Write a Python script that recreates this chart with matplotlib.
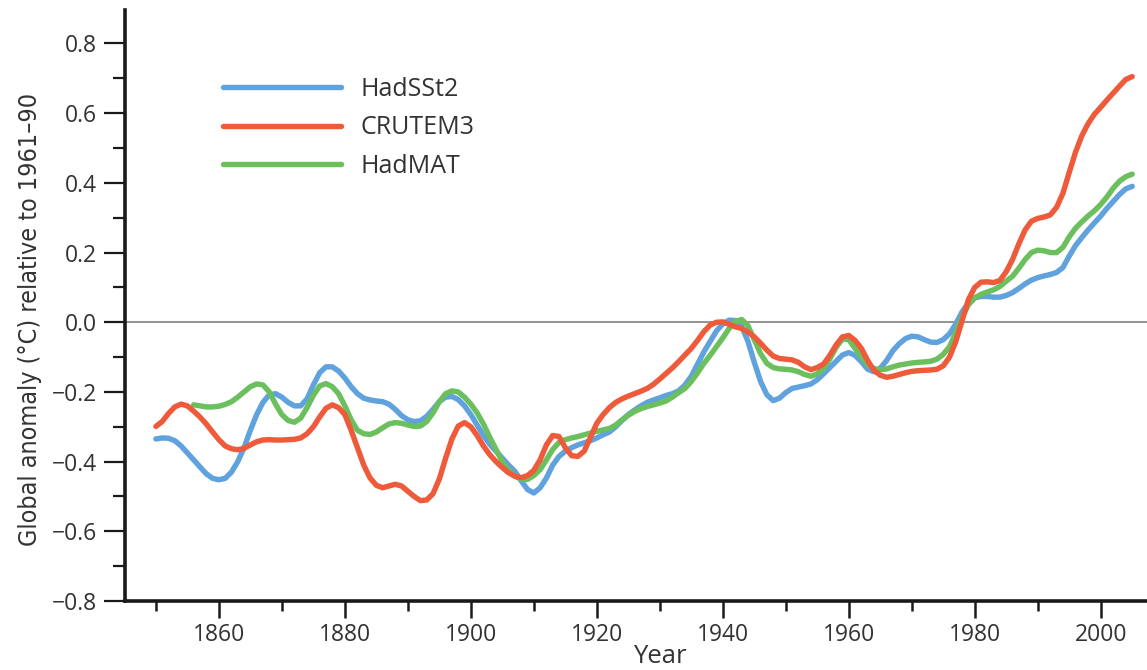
import matplotlib
matplotlib.use("Agg")
import matplotlib.pyplot as plt
from matplotlib import font_manager
from matplotlib.ticker import MultipleLocator

# yearly values
years = list(range(1850, 2006))
years_mat = list(range(1856, 2006))

hadsst2 = [
    -0.335, -0.332, -0.333, -0.34, -0.355, -0.375, -0.395, -0.415, -0.435, -0.448,   # 1850s
    -0.452, -0.448, -0.43, -0.4, -0.36, -0.31, -0.265, -0.23, -0.208, -0.205,        # 1860s
    -0.215, -0.23, -0.24, -0.24, -0.22, -0.18, -0.145, -0.128, -0.128, -0.14,        # 1870s
    -0.16, -0.185, -0.205, -0.218, -0.223, -0.226, -0.228, -0.235, -0.25, -0.268,    # 1880s
    -0.28, -0.285, -0.283, -0.27, -0.25, -0.228, -0.215, -0.213, -0.222, -0.24,      # 1890s
    -0.265, -0.295, -0.325, -0.35, -0.37, -0.39, -0.41, -0.428, -0.455, -0.48,       # 1900s
    -0.49, -0.475, -0.447, -0.41, -0.385, -0.37, -0.36, -0.352, -0.346, -0.34,       # 1910s
    -0.332, -0.323, -0.315, -0.3, -0.282, -0.265, -0.252, -0.24, -0.23, -0.223,      # 1920s
    -0.217, -0.21, -0.205, -0.197, -0.18, -0.155, -0.12, -0.085, -0.055, -0.025,     # 1930s
    -0.005, 0.006, 0.005, -0.012, -0.055, -0.115, -0.17, -0.208, -0.225, -0.218,     # 1940s
    -0.202, -0.19, -0.186, -0.182, -0.177, -0.165, -0.148, -0.13, -0.112, -0.094,    # 1950s
    -0.087, -0.095, -0.113, -0.135, -0.142, -0.132, -0.11, -0.082, -0.062, -0.047,   # 1960s
    -0.04, -0.042, -0.05, -0.057, -0.058, -0.05, -0.033, -0.005, 0.03, 0.055,        # 1970s
    0.07, 0.074, 0.074, 0.072, 0.072, 0.077, 0.085, 0.097, 0.11, 0.121,              # 1980s
    0.128, 0.133, 0.137, 0.143, 0.157, 0.19, 0.22, 0.243, 0.265, 0.285,              # 1990s
    0.305, 0.327, 0.347, 0.367, 0.383, 0.39,                                          # 2000s
]

crutem3 = [
    -0.299, -0.285, -0.262, -0.243, -0.235, -0.24, -0.255, -0.272, -0.292, -0.315,
    -0.337, -0.355, -0.363, -0.366, -0.362, -0.352, -0.343, -0.338, -0.337, -0.338,
    -0.338, -0.337, -0.336, -0.332, -0.32, -0.3, -0.272, -0.247, -0.237, -0.245,
    -0.265, -0.31, -0.36, -0.41, -0.447, -0.468, -0.475, -0.47, -0.465, -0.47,
    -0.485, -0.5, -0.512, -0.51, -0.492, -0.45, -0.39, -0.335, -0.298, -0.288,
    -0.3, -0.325, -0.355, -0.38, -0.4, -0.417, -0.432, -0.442, -0.446, -0.44,
    -0.425, -0.395, -0.352, -0.325, -0.328, -0.36, -0.383, -0.385, -0.37, -0.33,
    -0.29, -0.265, -0.245, -0.23, -0.22, -0.212, -0.205, -0.198, -0.19, -0.178,
    -0.163, -0.147, -0.131, -0.113, -0.094, -0.075, -0.052, -0.027, -0.008, 0.0,
    0.001, -0.006, -0.013, -0.018, -0.028, -0.042, -0.06, -0.08, -0.097, -0.104,
    -0.106, -0.108, -0.115, -0.128, -0.136, -0.13, -0.12, -0.095, -0.065, -0.042,
    -0.038, -0.052, -0.075, -0.11, -0.138, -0.152, -0.158, -0.155, -0.15, -0.145,
    -0.141, -0.139, -0.138, -0.137, -0.135, -0.125, -0.1, -0.055, 0.005, 0.065,
    0.1, 0.115, 0.116, 0.114, 0.12, 0.145, 0.18, 0.225, 0.265, 0.29,
    0.298, 0.302, 0.308, 0.33, 0.37, 0.43, 0.488, 0.535, 0.57, 0.597,
    0.617, 0.638, 0.658, 0.678, 0.697, 0.705,
]

hadmat = [
    -0.237, -0.24, -0.243, -0.243,                                                    # 1856-59
    -0.241, -0.236, -0.228, -0.215, -0.2, -0.185, -0.177, -0.18, -0.2, -0.235,
    -0.265, -0.282, -0.287, -0.275, -0.245, -0.21, -0.183, -0.176, -0.185, -0.205,
    -0.24, -0.28, -0.31, -0.32, -0.322, -0.315, -0.303, -0.292, -0.288, -0.29,
    -0.295, -0.299, -0.298, -0.285, -0.26, -0.228, -0.205, -0.197, -0.2, -0.215,
    -0.235, -0.26, -0.292, -0.33, -0.365, -0.4, -0.425, -0.442, -0.45, -0.451,
    -0.44, -0.423, -0.395, -0.365, -0.345, -0.337, -0.332, -0.328, -0.323, -0.318,
    -0.313, -0.309, -0.305, -0.295, -0.28, -0.267, -0.256, -0.248, -0.242, -0.237,
    -0.232, -0.226, -0.215, -0.202, -0.19, -0.17, -0.145, -0.118, -0.095, -0.07,
    -0.045, -0.018, 0.002, 0.008, -0.01, -0.05, -0.09, -0.118, -0.13, -0.134,
    -0.135, -0.137, -0.142, -0.15, -0.155, -0.148, -0.133, -0.105, -0.072, -0.048,
    -0.05, -0.075, -0.1, -0.122, -0.133, -0.136, -0.134, -0.128, -0.123, -0.12,
    -0.117, -0.115, -0.114, -0.112, -0.106, -0.092, -0.07, -0.03, 0.015, 0.05,
    0.07, 0.08, 0.087, 0.093, 0.103, 0.118, 0.132, 0.155, 0.18, 0.2,
    0.207, 0.205, 0.2, 0.2, 0.215, 0.245, 0.27, 0.288, 0.305, 0.32,
    0.338, 0.36, 0.385, 0.405, 0.418, 0.425,
]

tick_font = "Open Sans"
txt_color = "#333333"

# narrow font for the y label, if any is installed
fonts = font_manager.fontManager.ttflist
narrow = [f for f in fonts if ("Narrow" in f.name or "Condensed" in f.name
                               or f.stretch in ("condensed", "semi-condensed"))
          and f.weight in (400, "normal", "regular") and f.style == "normal"]
if narrow:
    f0 = narrow[0]
    ylab_kw = dict(fontproperties=font_manager.FontProperties(fname=f0.fname, size=18))
else:
    ylab_kw = dict(family="DejaVu Sans", fontsize=16.3)

fig = plt.figure(figsize=(11.47, 6.7), dpi=100)
ax = fig.add_axes([0.109, 0.103, 0.891, 0.882])

ax.axhline(0, color="#8a8a8a", lw=1.3, zorder=1)

lw = 3.9
ax.plot(years, hadsst2, color="#5fa2dd", lw=lw, solid_capstyle="round", solid_joinstyle="round", label="HadSSt2")
ax.plot(years_mat, hadmat, color="#6cbf5d", lw=lw, solid_capstyle="round", solid_joinstyle="round", label="HadMAT", zorder=2)
ax.plot(years, crutem3, color="#ef5a3a", lw=lw, solid_capstyle="round", solid_joinstyle="round", label="CRUTEM3", zorder=3)

ax.set_xlim(1845.1, 2007.35)
ax.set_ylim(-0.8, 0.896)

for s in ["top", "right"]:
    ax.spines[s].set_visible(False)
for s in ["left", "bottom"]:
    ax.spines[s].set_linewidth(2.6)
    ax.spines[s].set_color("#1a1a1a")

ax.xaxis.set_minor_locator(MultipleLocator(10))
ax.yaxis.set_minor_locator(MultipleLocator(0.1))
ax.tick_params(axis="x", which="major", length=12, width=1.8, color="#1a1a1a", pad=4)
ax.tick_params(axis="x", which="minor", length=7.5, width=1.8, color="#1a1a1a")
ax.tick_params(axis="y", which="major", length=15, width=1.6, color="#1a1a1a", pad=5)
ax.tick_params(axis="y", which="minor", length=9, width=1.6, color="#1a1a1a")

ax.set_xticks([1860, 1880, 1900, 1920, 1940, 1960, 1980, 2000])
ax.set_yticks([-0.8, -0.6, -0.4, -0.2, 0.0, 0.2, 0.4, 0.6, 0.8])
ax.set_yticklabels(["\u22120.8", "\u22120.6", "\u22120.4", "\u22120.2", "0.0", "0.2", "0.4", "0.6", "0.8"])
for lab in ax.get_xticklabels() + ax.get_yticklabels():
    lab.set_fontfamily(tick_font)
    lab.set_fontsize(16.5)
    lab.set_color(txt_color)

ax.set_xlabel("Year", fontfamily=tick_font, fontsize=18.5, color=txt_color)
ax.xaxis.set_label_coords(0.523, -0.072)
fig.text(0.026, 0.523, "Global anomaly (\u00b0C) relative to 1961\u201390", rotation=90,
         ha="center", va="center", color=txt_color, **ylab_kw)

handles, labels = ax.get_legend_handles_labels()
order = [0, 2, 1]
leg = ax.legend([handles[i] for i in order], [labels[i] for i in order],
                loc="upper left", bbox_to_anchor=(0.074, 0.925), frameon=False,
                prop={"family": tick_font, "size": 18}, handlelength=4.7,
                handletextpad=0.8, labelspacing=0.54)
for t in leg.get_texts():
    t.set_color(txt_color)

fig.savefig("out.png", dpi=100)
